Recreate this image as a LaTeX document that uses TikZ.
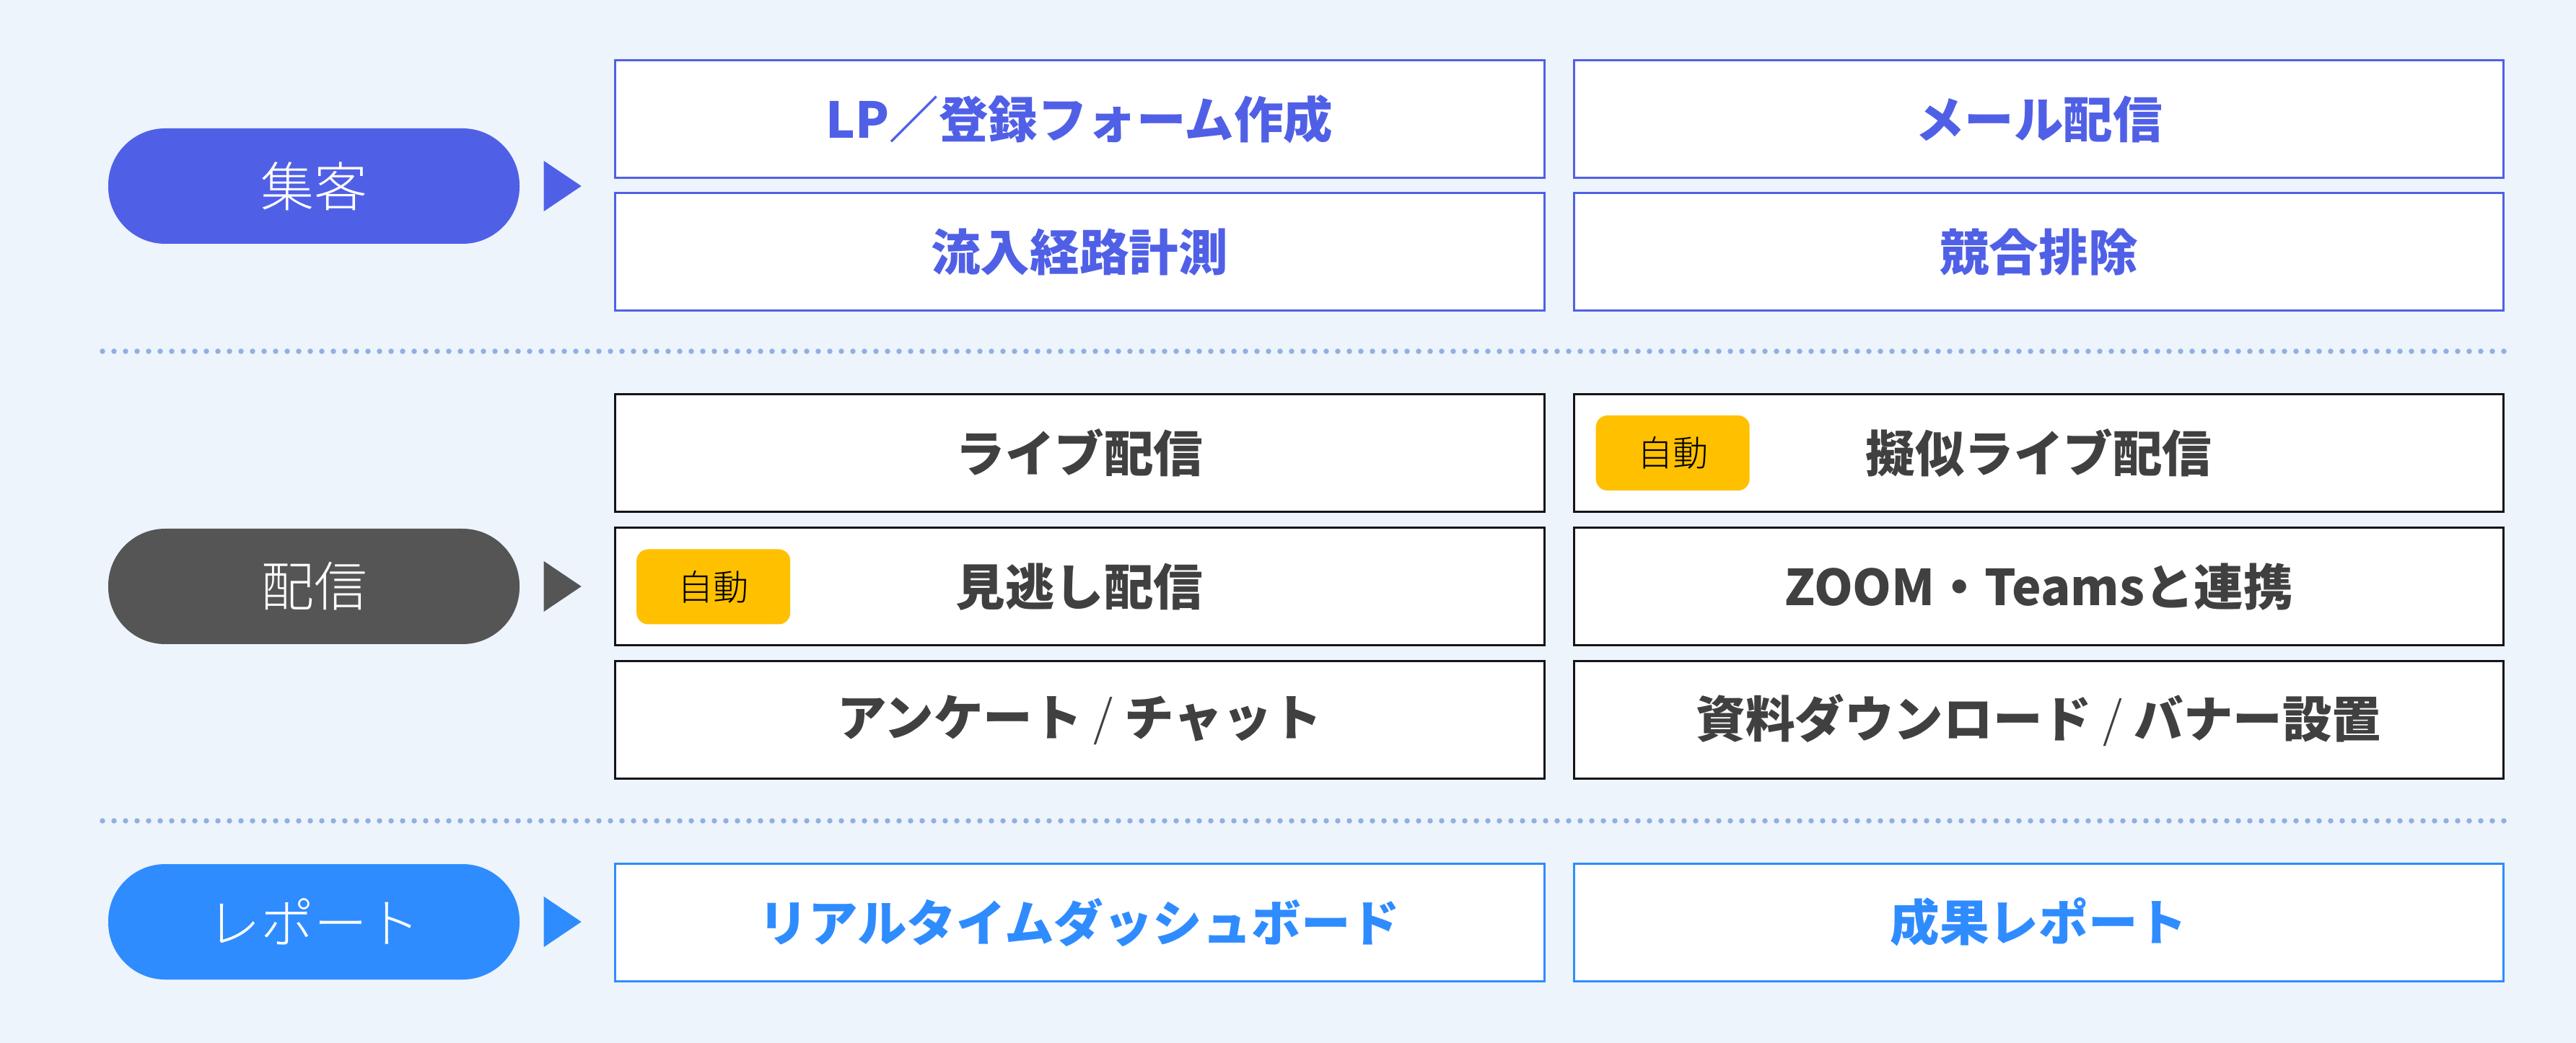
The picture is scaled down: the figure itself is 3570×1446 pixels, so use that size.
\documentclass[tikz,border=0pt]{standalone}
\usepackage{fontspec}
\usetikzlibrary{calc, positioning}
\newfontfamily\jpfont{Noto Sans CJK JP}
\newfontfamily\jplight{Noto Sans CJK JP Light}
\definecolor{bgBlue}{RGB}{237,244,252}
\definecolor{leadViolet}{RGB}{80,96,230}
\definecolor{streamGrey}{RGB}{85,85,85}
\definecolor{reportBlue}{RGB}{47,140,255}
\definecolor{boxText}{RGB}{64,64,64}
\definecolor{boxLine}{RGB}{20,20,25}
\definecolor{dotBlue}{RGB}{145,176,224}
\definecolor{autoYellow}{RGB}{255,192,0}

\tikzset{
	pill/.style={rounded corners=7.9mm, minimum width=57mm, minimum height=16mm, inner sep=0pt, text=white, font=\jplight\fontsize{21}{21}\selectfont},
	item/.style={draw, fill=white, line width=0.3mm, minimum width=128.8mm, minimum height=16.3mm, inner sep=0pt, font=\jpfont\bfseries\fontsize{19.5}{20}\selectfont},
	autobadge/.style={fill=autoYellow, rounded corners=1.6mm, minimum width=21.3mm, minimum height=10.4mm, inner sep=0pt, text=black, font=\jplight\fontsize{14}{14}\selectfont},
	dotline/.style={dotBlue, line width=0.75mm, line cap=round, dash pattern=on 0pt off 1.6mm}
}
\newcommand{\thinslash}{{\jplight\mdseries /}}

\begin{document}
\begin{tikzpicture}[x=0.1mm, y=-0.1mm]

% Background.

	\fill[bgBlue] (0,0) rectangle (3570,1446);
	\useasboundingbox (0,0) rectangle (3570,1446);

% Define coordinates.

	%dotted separators
	\coordinate (sepOneL) at (142,487);
	\coordinate (sepOneR) at (3470,487);
	\coordinate (sepTwoL) at (142,1138);
	\coordinate (sepTwoR) at (3470,1138);

% Draw pills.

	\node[pill, fill=leadViolet] (pillLead) at (435,258) {集客};
	\node[pill, fill=streamGrey] (pillStream) at (435,813) {配信};
	\node[pill, fill=reportBlue] (pillReport) at (435,1278) {レポート};

% Draw pointers.

	\fill[leadViolet] ($(pillLead.east)+(33,-35)$) -- ($(pillLead.east)+(33,35)$) -- ($(pillLead.east)+(85,0)$) -- cycle;
	\fill[streamGrey] ($(pillStream.east)+(33,-35)$) -- ($(pillStream.east)+(33,35)$) -- ($(pillStream.east)+(85,0)$) -- cycle;
	\fill[reportBlue] ($(pillReport.east)+(33,-35)$) -- ($(pillReport.east)+(33,35)$) -- ($(pillReport.east)+(85,0)$) -- cycle;

% Draw lead boxes.

	\node[item, draw=leadViolet, text=leadViolet] (lpForm) at (1496,165.5) {LP／登録フォーム作成};
	\node[item, draw=leadViolet, text=leadViolet] (mailSend) at (2825.5,165.5) {メール配信};
	\node[item, draw=leadViolet, text=leadViolet] (inflow) at (1496,349.5) {流入経路計測};
	\node[item, draw=leadViolet, text=leadViolet] (rivalOut) at (2825.5,349.5) {競合排除};

% Draw stream boxes.

	\node[item, draw=boxLine, text=boxText] (liveSend) at (1496,628) {ライブ配信};
	\node[item, draw=boxLine, text=boxText] (pseudoLive) at (2825.5,628) {擬似ライブ配信};
	\node[item, draw=boxLine, text=boxText] (missedSend) at (1496,813.5) {見逃し配信};
	\node[item, draw=boxLine, text=boxText] (zoomTeams) at (2825.5,813.5) {ZOOM・Teamsと連携};
	\node[item, draw=boxLine, text=boxText] (surveyChat) at (1496,998.5) {アンケート \thinslash{} チャット};
	\node[item, draw=boxLine, text=boxText] (docBanner) at (2825.5,998.5) {資料ダウンロード \thinslash{} バナー設置};

	%auto badges
	\node[autobadge, right=3.1mm of pseudoLive.west] (autoPseudo) {自動};
	\node[autobadge, right=3.1mm of missedSend.west] (autoMissed) {自動};

% Draw report boxes.

	\node[item, draw=reportBlue, text=reportBlue] (dashBoard) at (1496,1278.5) {リアルタイムダッシュボード};
	\node[item, draw=reportBlue, text=reportBlue] (resultReport) at (2825.5,1278.5) {成果レポート};

% Draw separators.

	\draw[dotline] (sepOneL) -- (sepOneR);
	\draw[dotline] (sepTwoL) -- (sepTwoR);

\end{tikzpicture}
\end{document}
